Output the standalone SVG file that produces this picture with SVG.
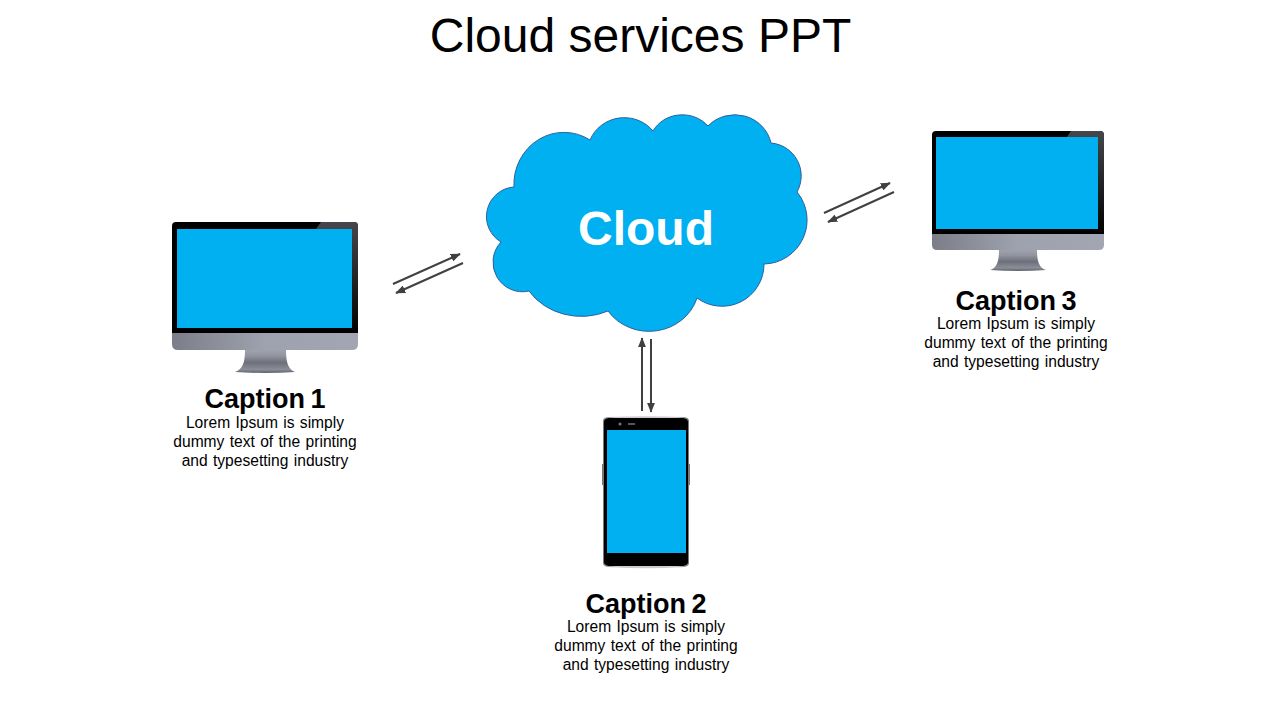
<svg xmlns="http://www.w3.org/2000/svg" width="1280" height="720" viewBox="0 0 1280 720">
<style>
text{font-family:"Liberation Sans",Arial,sans-serif;text-anchor:middle;fill:#000}
.cap{font-size:27px;font-weight:700;word-spacing:-2px}
.body{font-size:15.6px;word-spacing:1px}
.scr{fill:#00b0f0}
.arr{fill:none;stroke:#404040;stroke-width:2;marker-end:url(#ah)}
</style>
<defs>
<marker id="ah" markerWidth="5" markerHeight="4" refX="4.6" refY="2" orient="auto" markerUnits="strokeWidth"><path d="M0 0L5 2L0 4Z" fill="#404040"/></marker>
<linearGradient id="chin" x1="0" x2="1" y1="0" y2="0"><stop offset="0" stop-color="#7b7e88"/><stop offset=".5" stop-color="#9ea2ae"/><stop offset="1" stop-color="#a2a6b2"/></linearGradient>
<linearGradient id="stand" x1="0" x2="0" y1="0" y2="1"><stop offset="0" stop-color="#a0a3ad"/><stop offset=".25" stop-color="#92959f"/><stop offset=".55" stop-color="#6d707a"/><stop offset=".85" stop-color="#8b8e98"/><stop offset="1" stop-color="#5f626b"/></linearGradient>
<linearGradient id="edge" x1="0" x2="0" y1="0" y2="1"><stop offset="0" stop-color="#46474c"/><stop offset="1" stop-color="#000"/></linearGradient>
<linearGradient id="silver" x1="0" x2="1" y1="0" y2="0"><stop offset="0" stop-color="#777"/><stop offset=".15" stop-color="#ccc"/><stop offset=".85" stop-color="#ccc"/><stop offset="1" stop-color="#777"/></linearGradient>
</defs>
<rect width="1280" height="720" fill="#fff"/>
<text id="title" x="640.500" y="52" font-size="48">Cloud services PPT</text>
<g id="cloud">
<path d="M514 187A50 52 0 0 1 590 140A37 36 0 0 1 653 131A33 30 0 0 1 708 126A37 36 0 0 1 771 143A33 33 0 0 1 797 192A44 44 0 0 1 764 264A42 42 0 0 1 697 298A50 47 0 0 1 608 311A62 55 0 0 1 529 291A29.500 29.500 0 0 1 501 242A29.600 29.600 0 0 1 514 187Z" class="scr" stroke="#2f5f9e" stroke-width="1"/>
<text x="646" y="245" font-size="48" font-weight="700" style="fill:#fff">Cloud</text>
</g>
<g id="monitor1">
<path d="M235 372C243 369 245 362 245 350H286C286 362 288 369 295 372Q265 374 235 372Z" fill="url(#stand)"/>
<path d="M172 333H358V344Q358 350 352 350H178Q172 350 172 344Z" fill="url(#chin)"/>
<path d="M172 333V226Q172 222 176 222H354Q358 222 358 226V333Z" fill="#000"/>
<path d="M316 229L321 222H354Q358 222 358 226V333H352V229Z" fill="url(#edge)"/>
<rect class="scr" x="177" y="229" width="175" height="99"/>
<text class="cap" x="265" y="408">Caption 1</text>
<text class="body" x="265" y="428">Lorem Ipsum is simply</text>
<text class="body" x="265" y="447">dummy text of the printing</text>
<text class="body" x="265" y="466">and typesetting industry</text>
</g>
<g id="monitor3">
<path d="M990 270C997 268 999 261 999 250H1037C1037 261 1039 268 1046 270Q1018 272 990 270Z" fill="url(#stand)"/>
<path d="M932 234H1104V245Q1104 250 1099 250H937Q932 250 932 245Z" fill="url(#chin)"/>
<path d="M932 234V135Q932 131 936 131H1100Q1104 131 1104 135V234Z" fill="#000"/>
<path d="M1067 137L1071 131H1100Q1104 131 1104 135V234H1098V137Z" fill="url(#edge)"/>
<rect class="scr" x="936" y="137" width="162" height="92"/>
<text class="cap" x="1016" y="310">Caption 3</text>
<text class="body" x="1016" y="329">Lorem Ipsum is simply</text>
<text class="body" x="1016" y="348">dummy text of the printing</text>
<text class="body" x="1016" y="367">and typesetting industry</text>
</g>
<g id="phone">
<rect x="602" y="464" width="2" height="21" fill="#777"/>
<rect x="688" y="464" width="2" height="21" fill="#777"/>
<path d="M603 421Q603 417.500 608 417Q646 415.500 684 417Q689 417.500 689 421V563Q689 566 684 567Q646 569.500 608 567Q603 566 603 563Z" fill="url(#silver)"/>
<path d="M604 422Q604 418.500 609 418H683Q688 418.500 688 422V562Q688 565 683 566H609Q604 565 604 562Z" fill="#000"/>
<rect class="scr" x="607" y="430" width="79" height="123"/>
<circle cx="620" cy="424" r="1.500" fill="#777"/>
<rect x="628" y="423" width="7" height="2" fill="#555"/>
<text class="cap" x="646" y="613">Caption 2</text>
<text class="body" x="646" y="632">Lorem Ipsum is simply</text>
<text class="body" x="646" y="651">dummy text of the printing</text>
<text class="body" x="646" y="670">and typesetting industry</text>
</g>
<g id="connectors">
<path class="arr" d="M393 284L460 254"/>
<path class="arr" d="M463 263L396 293"/>
<path class="arr" d="M824 213L890 183"/>
<path class="arr" d="M894 192L828 222"/>
<path class="arr" d="M642 411V338"/>
<path class="arr" d="M651 339V412"/>
</g>
</svg>
